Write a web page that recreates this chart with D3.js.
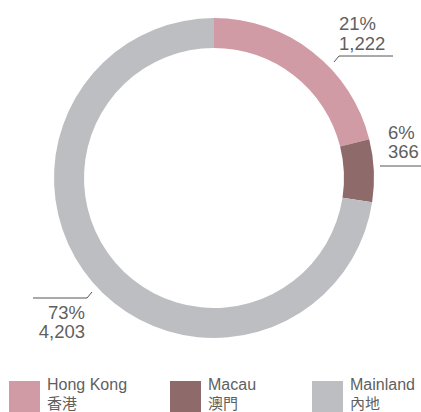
<!DOCTYPE html>
<html><head><meta charset="utf-8">
<script src="https://cdn.jsdelivr.net/npm/d3@7"></script>
<style>html,body{margin:0;padding:0;background:#fff;}svg{display:block;}</style>
</head><body>
<script>
const categories = ["Hong Kong", "Macau", "Mainland"];
const categoriesZh = ["香港", "澳門", "內地"];
const values = [1222, 366, 4203];
const percents = ["21%", "6%", "73%"];
const valueLabels = ["1,222", "366", "4,203"];
const colors = ["#d09ba4", "#8f6a6a", "#bdbec2"];

const W = 421, H = 412;
const svg = d3.select("body").append("svg").attr("width", W).attr("height", H);
const cx = 214, cy = 178, R = 160, r = 130;
const font = "'Liberation Sans', Arial, sans-serif";
const txt = "#5f5f5f";

const pie = d3.pie().sort(null).value(d => d)(values);
const arc = d3.arc().innerRadius(r).outerRadius(R);
const g = svg.append("g").attr("transform", `translate(${cx},${cy})`);
g.selectAll("path").data(pie).join("path").attr("d", arc).attr("fill", (d, i) => colors[i]);

// labels
const labelPos = [
  {x: 339, y1: 30, y2: 50, anchor: "start", line: [[334, 62], [339, 56], [393, 56]]},
  {x: 388, y1: 139, y2: 158, anchor: "start", line: [[380, 166], [421, 166]]},
  {x: 85, y1: 319, y2: 338, anchor: "end", line: [[92, 292], [87, 298], [33, 298]]}
];
labelPos.forEach((p, i) => {
  svg.append("text").attr("x", p.x).attr("y", p.y1).attr("text-anchor", p.anchor)
    .attr("font-family", font).attr("font-size", 18.5).attr("fill", txt).text(percents[i]);
  svg.append("text").attr("x", p.x).attr("y", p.y2).attr("text-anchor", p.anchor)
    .attr("font-family", font).attr("font-size", 18.5).attr("fill", txt).text(valueLabels[i]);
  svg.append("path").attr("d", d3.line()(p.line)).attr("fill", "none")
    .attr("stroke", "#555").attr("stroke-width", 1);
});

// legend
const legX = [9, 170, 312];
categories.forEach((c, i) => {
  svg.append("rect").attr("x", legX[i]).attr("y", 381).attr("width", 31).attr("height", 31).attr("fill", colors[i]);
  svg.append("text").attr("x", legX[i] + 38).attr("y", 390).attr("font-family", font)
    .attr("font-size", 16).attr("fill", txt).text(c);
  svg.append("text").attr("x", legX[i] + 38).attr("y", 409).attr("font-family", "'Noto Sans CJK TC', sans-serif")
    .attr("font-size", 15).attr("fill", txt).text(categoriesZh[i]);
});
</script>
</body></html>
